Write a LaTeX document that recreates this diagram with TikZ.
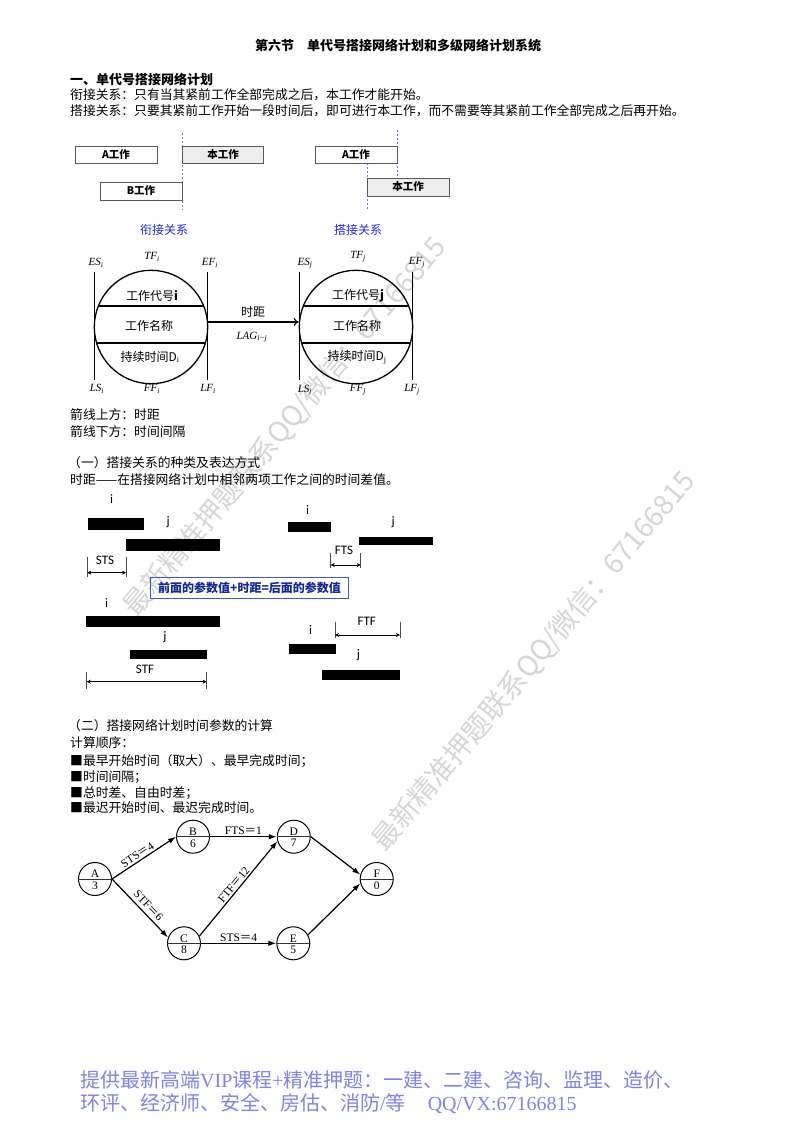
\documentclass[tikz,border=0pt]{standalone}
\usepackage{fontspec}
\setmainfont{Liberation Serif}
\newfontfamily\cjk{Noto Sans CJK SC}
\newfontfamily\calfont{Carlito}
\newfontfamily\lser{Liberation Serif}
\usetikzlibrary{arrows.meta}
\newcommand{\setfs}[1]{\fontsize{#1}{#1}\selectfont}
\newcommand{\pl}[2]{#1\textsubscript{#2}}
\definecolor{dashblue}{RGB}{120,120,225}
\definecolor{labblue}{RGB}{30,40,235}
\definecolor{frmblue}{RGB}{60,90,200}
\definecolor{frmtext}{RGB}{20,40,150}
\definecolor{foot}{RGB}{130,130,235}
\definecolor{wm}{RGB}{214,214,214}
\begin{document}
\begin{tikzpicture}[x=1pt,y=-1pt,
  body/.style={anchor=west,inner sep=0pt,font=\cjk\setfs{12.8}},
  head/.style={anchor=west,inner sep=0pt,font=\cjk\bfseries\setfs{13}},
  wbox/.style={draw=black!65,line width=0.8pt,minimum height=17pt,inner sep=0pt,font=\cjk\bfseries\setfs{10.5}},
  vdash/.style={dashblue,line width=0.8pt,dash pattern=on 2pt off 2pt},
  rel/.style={font=\cjk\setfs{12},text=labblue,inner sep=0pt},
  ring/.style={circle,draw,line width=1.3pt,minimum size=113.4pt,inner sep=0pt},
  heavy/.style={line width=1.3pt},
  param/.style={font=\lser\itshape\setfs{11},inner sep=0pt},
  intext/.style={font=\cjk\setfs{12},inner sep=0pt},
  bar/.style={fill=black},
  barlab/.style={font=\calfont\setfs{13},inner sep=0pt},
  tick/.style={line width=0.7pt,black!70},
  dim/.style={line width=0.8pt,{Stealth[length=4pt,width=4pt]}-{Stealth[length=4pt,width=4pt]}},
  netnode/.style={circle,draw,line width=1pt,minimum size=33pt,inner sep=0pt},
  nettext/.style={font=\lser\setfs{11.5},inner sep=0pt},
  netarrow/.style={line width=1.2pt,-{Latex[length=8pt,width=5.5pt]}},
  elab/.style={font=\lser\setfs{11.5},inner sep=1.5pt},
  footer/.style={anchor=west,inner sep=0pt,font=\cjk\setfs{20},text=foot},
  wmark/.style={font=\cjk\setfs{28},text=wm,rotate=50,inner sep=0pt}]

\path[use as bounding box,fill=white] (0,0) rectangle (800,1132);

% watermarks
\node[wmark] (wm1) at (285,427) {最新精准押题联系QQ/微信：67166815};
\node[wmark] (wm2) at (534,661) {最新精准押题联系QQ/微信：67166815};

% title and intro text
\node[inner sep=0pt,font=\cjk\bfseries\setfs{13}] (title) at (398,46) {第六节\hspace{13pt}单代号搭接网络计划和多级网络计划系统};
\node[head] (h1) at (70,79) {一、单代号搭接网络计划};
\node[body] (t1) at (70,95) {衔接关系：只有当其紧前工作全部完成之后，本工作才能开始。};
\node[body] (t2) at (70,111) {搭接关系：只要其紧前工作开始一段时间后，即可进行本工作，而不需要等其紧前工作全部完成之后再开始。};

% bar diagrams
\draw[vdash] (182.5,133) -- (182.5,210);
\draw[vdash] (367,163) -- (367,210);
\draw[vdash] (397.3,130) -- (397.3,178);
\node[wbox,minimum width=82pt] (a1) at (116,154.5) {A工作};
\node[wbox,minimum width=80.6pt,fill=black!7] (b1) at (223,154.5) {本工作};
\node[wbox,minimum width=82pt,minimum height=18pt] (bw) at (141,191) {B工作};
\node[wbox,minimum width=82pt] (a2) at (356,154.5) {A工作};
\node[wbox,minimum width=82pt,minimum height=18pt,fill=black!7] (b2) at (408,187) {本工作};
\node[rel] (r1) at (164,230) {衔接关系};
\node[rel] (r2) at (358,230) {搭接关系};

% single-code node diagrams
\node[ring] (ci) at (151,327) {};
\node[ring] (cj) at (356,327) {};
\draw[heavy] (98.3,306) -- (203.7,306);
\draw[heavy] (96.6,343) -- (205.4,343);
\draw[heavy] (303.3,306) -- (408.7,306);
\draw[heavy] (301.6,343) -- (410.4,343);
\draw[heavy] (94.3,272) -- (94.3,380);
\draw[heavy] (207.7,272) -- (207.7,380);
\draw[heavy] (299.3,272) -- (299.3,380);
\draw[heavy] (412.7,272) -- (412.7,380);
\draw[line width=1.1pt,-{To[length=5pt,width=8pt]}] ([yshift=5pt]ci.east) -- ([yshift=5pt]cj.west);
\node[intext] (ci1) at (152,296) {工作代号\textbf{i}};
\node[intext] (ci2) at (149,326) {工作名称};
\node[intext] (ci3) at (150,357) {持续时间D$_{\mathrm{i}}$};
\node[intext] (cj1) at (358,296) {工作代号\textbf{j}};
\node[intext] (cj2) at (357,326) {工作名称};
\node[intext] (cj3) at (357,357) {持续时间D$_{\mathrm{j}}$};
\node[intext] (gap) at (253,312) {时距};
\node[param] (lag) at (252,337) {\pl{LAG}{i\textminus j}};
\node[param] (esi) at (96,263) {\pl{ES}{i}};
\node[param] (tfi) at (152,257) {\pl{TF}{i}};
\node[param] (efi) at (210,263) {\pl{EF}{i}};
\node[param] (lsi) at (97,389) {\pl{LS}{i}};
\node[param] (ffi) at (152,389) {\pl{FF}{i}};
\node[param] (lfi) at (208,389) {\pl{LF}{i}};
\node[param] (esj) at (305,263) {\pl{ES}{j}};
\node[param] (tfj) at (358,257) {\pl{TF}{j}};
\node[param] (efj) at (417,263) {\pl{EF}{j}};
\node[param] (lsj) at (305,390) {\pl{LS}{j}};
\node[param] (ffj) at (358,390) {\pl{FF}{j}};
\node[param] (lfj) at (412,390) {\pl{LF}{j}};

\node[body] (t3) at (70,415) {箭线上方：时距};
\node[body] (t4) at (70,432) {箭线下方：时间间隔};
\node[body] (t5) at (68,463) {（一）搭接关系的种类及表达方式};
\node[body] (t6) at (70,480) {时距——在搭接网络计划中相邻两项工作之间的时间差值。};

% STS
\fill[bar] (88.3,517.7) rectangle (144,530);
\fill[bar] (126,539.3) rectangle (220,550.7);
\node[barlab] (stsi) at (111.7,499.3) {i};
\node[barlab] (stsj) at (168.3,522) {j};
\node[barlab] (stsl) at (105,560) {STS};
\draw[tick] (87.3,556.7) -- (87.3,577.3);
\draw[tick] (126,556.7) -- (126,577.3);
\coordinate (sts1) at (87.3,572.7);
\coordinate (sts2) at (126,572.7);
\draw[dim] (sts1) -- (sts2);

% formula box
\node[draw=frmblue,line width=0.8pt,minimum width=197.6pt,minimum height=21pt,inner sep=0pt,font=\cjk\bfseries\setfs{12},text=frmtext] (formula) at (249.5,587.8) {前面的参数值+时距=后面的参数值};

% STF
\fill[bar] (86,616) rectangle (220,626.7);
\fill[bar] (130,650) rectangle (206.7,659);
\node[barlab] (stfi) at (106.7,603.3) {i};
\node[barlab] (stfj) at (165,637) {j};
\node[barlab] (stfl) at (145,669) {STF};
\draw[tick] (86.7,671.7) -- (86.7,689.3);
\draw[tick] (206.7,671.7) -- (206.7,689.3);
\coordinate (stf1) at (86.7,681.7);
\coordinate (stf2) at (206.7,681.7);
\draw[dim] (stf1) -- (stf2);

% FTS
\fill[bar] (287.7,522.3) rectangle (331,532.3);
\fill[bar] (359.3,536.7) rectangle (432.7,545);
\node[barlab] (ftsi) at (307.7,510) {i};
\node[barlab] (ftsj) at (393.3,522) {j};
\node[barlab] (ftsl) at (344,550.7) {FTS};
\draw[tick] (330.7,553) -- (330.7,568);
\draw[tick] (360.7,553) -- (360.7,568);
\coordinate (fts1) at (330.7,565);
\coordinate (fts2) at (360.7,565);
\draw[dim] (fts1) -- (fts2);

% FTF
\fill[bar] (289.3,644) rectangle (336,654);
\fill[bar] (321.7,670) rectangle (400,680);
\node[barlab] (ftfi) at (310.7,630) {i};
\node[barlab] (ftfj) at (358.3,655) {j};
\node[barlab] (ftfl) at (366.7,621) {FTF};
\draw[tick] (335,621.7) -- (335,638.3);
\draw[tick] (400,621.7) -- (400,638.3);
\coordinate (ftf1) at (335,635);
\coordinate (ftf2) at (400,635);
\draw[dim] (ftf1) -- (ftf2);

% section two
\node[body] (s1) at (68,726) {（二）搭接网络计划时间参数的计算};
\node[body] (s2) at (70,743) {计算顺序：};
\node[body] (s3) at (70,761) {■最早开始时间（取大）、最早完成时间；};
\node[body] (s4) at (70,777) {■时间间隔；};
\node[body] (s5) at (70,793) {■总时差、自由时差；};
\node[body] (s6) at (70,808) {■最迟开始时间、最迟完成时间。};

% network
\foreach \n/\x/\y/\d in {A/95/879/3, B/193/836.7/6, C/184/943.3/8, D/293.8/836.7/7, E/293.3/943.3/5, F/376.7/879/0} {
  \node[netnode] (\n) at (\x,\y) {};
  \draw[line width=0.9pt,black!80] (\n.west) -- (\n.east);
  \node[nettext,above=1pt] (\n-t) at (\n.center) {\n};
  \node[nettext,below=2.5pt] (\n-d) at (\n.center) {\d};
}
\draw[netarrow] (A.east) -- node[elab,sloped,above,pos=0.45] (lab1) {STS{\cjk ＝}4} (B.west);
\draw[netarrow] (A.east) -- node[elab,sloped,above=2pt,pos=0.55] (lab2) {STF{\cjk ＝}6} (C.160);
\draw[netarrow] (B.east) -- node[elab,above] (lab3) {FTS{\cjk ＝}1} (D.west);
\draw[netarrow] (C.25) -- node[elab,sloped,above,pos=0.5] (lab4) {FTF{\cjk ＝}12} (D.195);
\draw[netarrow] (C.east) -- node[elab,above] (lab5) {STS{\cjk ＝}4} (E.west);
\draw[netarrow] (D.east) -- (F.165);
\draw[netarrow] (E.30) -- (F.195);

% footer
\node[footer] (f1) at (80,1080) {提供最新高端{\lser VIP}课程{\lser +}精准押题：一建、二建、咨询、监理、造价、};
\node[footer] (f2) at (80,1104) {环评、经济师、安全、房估、消防{\lser /}等\hspace{22pt}{\lser QQ/VX:67166815}};
\end{tikzpicture}
\end{document}
